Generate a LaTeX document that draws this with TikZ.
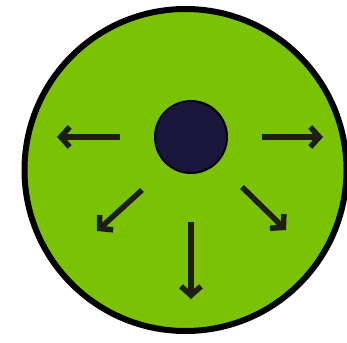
\documentclass[tikz,border=0pt]{standalone}
\usetikzlibrary{arrows.meta}
\definecolor{leaf}{RGB}{124,194,4}
\definecolor{navy}{RGB}{26,22,60}
\begin{document}
\begin{tikzpicture}[x=1pt,y=-1pt,
  arr/.style={line width=5.5pt,draw={rgb,255:red,30;green,30;blue,20},-{Straight Barb[length=9pt,width=20pt,line width=5.5pt]}}]
\useasboundingbox[fill=white] (0,0) rectangle (347,342);
\node[circle,draw=black,line width=6pt,fill=leaf,minimum size=322pt,inner sep=0pt] (disc) at (185.5,170) {};
\node[circle,fill=navy,draw=black,line width=2pt,minimum size=72pt,inner sep=0pt] (dot) at (191,137) {};
\coordinate (l0) at (120,137); \coordinate (l1) at (57,137);
\coordinate (r0) at (262,137); \coordinate (r1) at (323,137);
\coordinate (dl0) at (142,190); \coordinate (dl1) at (97,231);
\coordinate (dr0) at (242,187); \coordinate (dr1) at (286,230);
\coordinate (d0) at (191,222); \coordinate (d1) at (191,299);
\draw[arr] (l0) -- (l1);
\draw[arr] (r0) -- (r1);
\draw[arr] (dl0) -- (dl1);
\draw[arr] (dr0) -- (dr1);
\draw[arr] (d0) -- (d1);
\end{tikzpicture}
\end{document}
